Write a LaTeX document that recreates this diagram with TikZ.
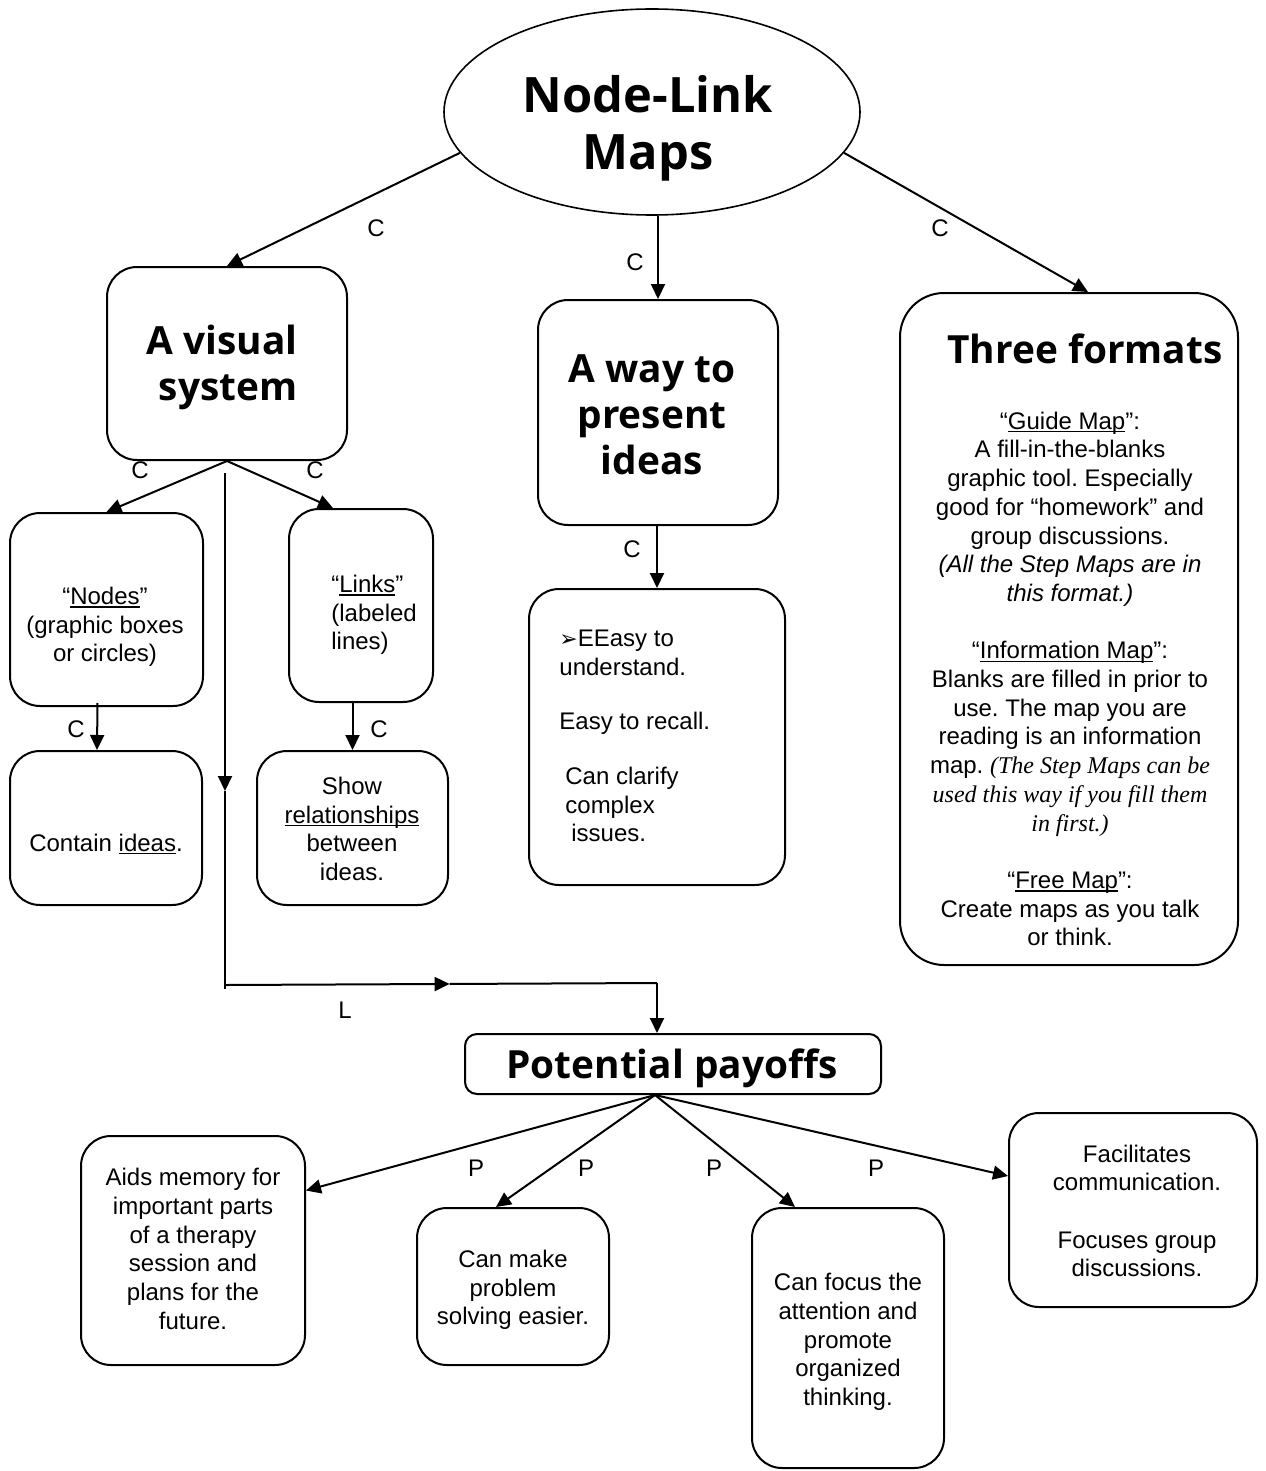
\documentclass[tikz,border=0pt]{standalone}
\usepackage{fontspec}
\setmainfont{Liberation Sans}
\newfontfamily\headfont{Open Sans}
\newfontfamily\symfont{DejaVu Sans}
\newfontfamily\timesit{Liberation Serif}
\usetikzlibrary{shapes.geometric,arrows.meta,calc}
\newcommand\myul[1]{\setbox0\hbox{#1}\rlap{\rule[-1.6pt]{\wd0}{0.7pt}}\box0}
\frenchspacing
\begin{document}
\begin{tikzpicture}[x=0.5pt,y=-0.5pt]
\tikzset{
 box/.style={draw, line width=1pt, rounded corners=15pt, inner sep=0pt},
 txt/.style={align=center, font=\fontsize{12}{14.35}\selectfont, inner sep=0pt},
 head/.style={align=center, font=\headfont\bfseries\fontsize{19.4}{23}\selectfont, inner sep=0pt},
 lbl/.style={font=\fontsize{12}{14}\selectfont, inner sep=0pt},
 arr/.style={line width=1pt, -{Triangle[length=7.5pt,width=7pt]}},
 ln/.style={line width=1pt},
}
\useasboundingbox (0,0) rectangle (1265,1471);
\fill[white] (0,0) rectangle (1265,1471);

% main nodes
\node[ellipse, draw, line width=0.8pt, minimum width=208pt, minimum height=103pt, inner sep=0pt] (root) at (652,112) {};
\node[box, minimum width=120pt, minimum height=96.5pt] (vis) at (227,363.5) {};
\node[box, minimum width=120pt, minimum height=112.5pt] (way) at (658,412.5) {};
\node[box, rounded corners=22pt, minimum width=169pt, minimum height=336pt] (three) at (1069,629) {};
\node[box, minimum width=96.5pt, minimum height=96.5pt] (nodesb) at (106.5,609.5) {};
\node[box, minimum width=72pt, minimum height=96.5pt] (links) at (361,605.5) {};
\node[box, minimum width=96pt, minimum height=77pt] (contain) at (106,828) {};
\node[box, minimum width=95.5pt, minimum height=77pt] (show) at (352.5,828) {};
\node[box, minimum width=128pt, minimum height=148pt] (easy) at (657,737) {};
\node[box, rounded corners=6pt, minimum width=208pt, minimum height=30pt] (pay) at (673,1064) {};
\node[box, minimum width=112pt, minimum height=114.5pt] (aids) at (193,1250.5) {};
\node[box, minimum width=96pt, minimum height=78.5pt] (canmake) at (513,1286.5) {};
\node[box, minimum width=96pt, minimum height=130pt] (focus) at (848,1338) {};
\node[box, minimum width=124pt, minimum height=97pt] (facil) at (1133,1210) {};

% texts
\node[align=center, inner sep=0pt, font=\headfont\bfseries\fontsize{24.4}{28.5}\selectfont] (roott) at (648,128) {Node-Link\\Maps};
\node[head] (vist) at (222,367) {A visual\\\hspace*{6pt}system};
\node[head] (wayt) at (652,415) {A way to\\present\\ideas};
\node[head] (threet) at (1085,349) {Three formats};
\node[head] (payt) at (672,1068) {Potential payoffs};

\node[txt] (threeb) at (1070,679) {“\myul{Guide Map}”:\\A fill-in-the-blanks\\graphic tool. Especially\\good for “homework” and\\group discussions.\\{\itshape (All the Step Maps are in}\\{\itshape this format.)}\\[14.35pt]“\myul{Information Map}”:\\Blanks are filled in prior to\\use. The map you are\\reading is an information\\map. {\timesit\itshape (The Step Maps can be}\\{\timesit\itshape used this way if you fill them}\\{\timesit\itshape in first.)}\\[14.35pt]“\myul{Free Map}”:\\Create maps as you talk\\or think.};

\node[txt] (nodest) at (105,627) {“\myul{Nodes}”\\(graphic boxes\\or circles)};
\node[txt, align=left, anchor=west] (linkst) at (331,615) {“\myul{Links}”\\(labeled\\lines)};
\node[txt] (containt) at (106,844) {Contain \myul{ideas}.};
\node[txt] (showt) at (352,829) {Show\\\myul{relationships}\\between\\ideas.};
\node[txt, align=left, anchor=west] (easyt) at (559,736) {{\symfont\fontsize{11}{12}\selectfont ➢}EEasy to\\understand.\\[13pt]Easy to recall.\\[13pt]\hspace*{3pt}Can clarify\\\hspace*{3pt}complex\\\hspace*{6pt}issues.};
\node[txt] (aidst) at (193,1249) {Aids memory for\\important parts\\of a therapy\\session and\\plans for the\\future.};
\node[txt] (canmaket) at (513,1290) {Can make\\problem\\solving easier.};
\node[txt] (focust) at (848,1342) {Can focus the\\attention and\\promote\\organized\\thinking.};
\node[txt] (facilt) at (1137,1211) {Facilitates\\communication.\\[14.35pt]Focuses group\\discussions.};

% connectors
\draw[arr] (root.192) -- (vis.north);
\draw[arr] (root.south -| way.north) -- (way.north);
\draw[arr] (root.348) -- ($(three.north)+(19,0)$);
\draw[arr] (vis.south) -- (nodesb.north);
\draw[arr] (vis.south) -- ($(links.north)+(-28,0)$);
\draw[arr] ($(nodesb.south)+(-9,-4)$) -- ($(contain.north)+(-9,0)$);
\draw[arr] (links.south -| show.north) -- (show.north);
\draw[arr] (way.south -| easy.north) -- (easy.north);

\coordinate (ls) at ($(vis.south)+(-2,12)$);
\coordinate (lm1) at ($(vis.south)+(-2,330)$);
\coordinate (lb1) at ($(vis.south)+(-2,524)$);
\coordinate (lb2) at ($(pay.north)+(-16,-50)$);
\coordinate (lm2) at ($(lb1)!0.52!(lb2)$);
\draw[arr] (ls) -- (lm1);
\draw[ln] (lm1) -- ($(lb1)+(0,4)$);
\draw[arr] (lb1) -- (lm2);
\draw[ln] (lm2) -- (lb2);
\draw[arr] (lb2) -- ($(pay.north)+(-16,0)$);

\coordinate (pf) at ($(pay.south)+(-18,0)$);
\draw[arr] (pf) -- ($(aids.east)+(0,-60)$);
\draw[arr] (pf) -- ($(canmake.north)+(-17,0)$);
\draw[arr] (pf) -- ($(focus.north)+(-53,0)$);
\draw[arr] (pf) -- ($(facil.west)+(0,-34)$);

% labels
\node[lbl] (c1) at (376,228) {C};
\node[lbl] (c2) at (635,262) {C};
\node[lbl] (c3) at (940,228) {C};
\node[lbl] (c4) at (140,470) {C};
\node[lbl] (c5) at (315,470) {C};
\node[lbl] (c6) at (76,729) {C};
\node[lbl] (c7) at (379,729) {C};
\node[lbl] (c8) at (632,549) {C};
\node[lbl] (l1) at (345,1010) {L};
\node[lbl] (p1) at (476,1168) {P};
\node[lbl] (p2) at (586,1168) {P};
\node[lbl] (p3) at (714,1168) {P};
\node[lbl] (p4) at (876,1168) {P};
\end{tikzpicture}
\end{document}
